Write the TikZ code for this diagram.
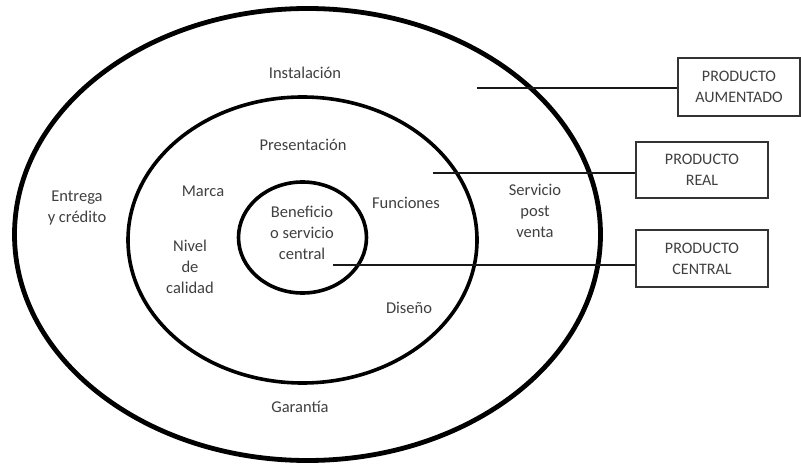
\documentclass[tikz,border=0pt]{standalone}
\usepackage{fontspec}
\setmainfont{Carlito}
\usetikzlibrary{shapes.geometric}
\definecolor{txt}{HTML}{404040}
\begin{document}
\begin{tikzpicture}[x=1pt,y=-1pt,
  ring/.style={draw=black, ellipse, inner sep=0pt},
  lbl/.style={text=txt, align=center, font=\fontsize{16.5}{21}\selectfont, inner sep=1pt},
  boxnode/.style={draw=black!80, line width=1.4pt, text=txt, align=center, font=\fontsize{16}{21}\selectfont, inner sep=0pt},
  conn/.style={draw=black!90, line width=2pt}]
\useasboundingbox (0,0) rectangle (801,465);
\fill[white] (0,0) rectangle (801,465);
% rings
\node[ring, line width=4.8pt, minimum width=586pt, minimum height=452pt] (outer) at (307.5,234.5) {};
\node[ring, line width=3.6pt, minimum width=349pt, minimum height=286pt] (middle) at (302.5,240) {};
\node[ring, line width=3.6pt, minimum width=128pt, minimum height=111pt] (inner) at (302.5,237.5) {};
% labels
\node[lbl] (inst) at (305,73) {Instalación};
\node[lbl] (pres) at (303,145) {Presentación};
\node[lbl] (marca) at (203,191) {Marca};
\node[lbl] (entrega) at (77,208) {Entrega\\y crédito};
\node[lbl] (benef) at (302,233) {Beneficio\\o servicio\\central};
\node[lbl] (func) at (406,203) {Funciones};
\node[lbl] (serv) at (535,211) {Servicio\\post\\venta};
\node[lbl] (nivel) at (190,267) {Nivel\\de\\calidad};
\node[lbl] (dis) at (409,308) {Diseño};
\node[lbl] (gar) at (300,407) {Garantía};
% boxes
\node[boxnode, minimum width=122pt, minimum height=58pt] (baum) at (739,87) {PRODUCTO\\AUMENTADO};
\node[boxnode, minimum width=132pt, minimum height=56pt] (breal) at (702,170) {PRODUCTO\\REAL};
\node[boxnode, minimum width=132pt, minimum height=57pt] (bcent) at (702,258.5) {PRODUCTO\\CENTRAL};
% connector free ends
\coordinate (caum) at (477,88);
\coordinate (creal) at (433,173);
\coordinate (ccent) at (333,265);
\draw[conn] (caum) -- (caum -| baum.west);
\draw[conn] (creal) -- (creal -| breal.west);
\draw[conn] (ccent) -- (ccent -| bcent.west);
\end{tikzpicture}
\end{document}
